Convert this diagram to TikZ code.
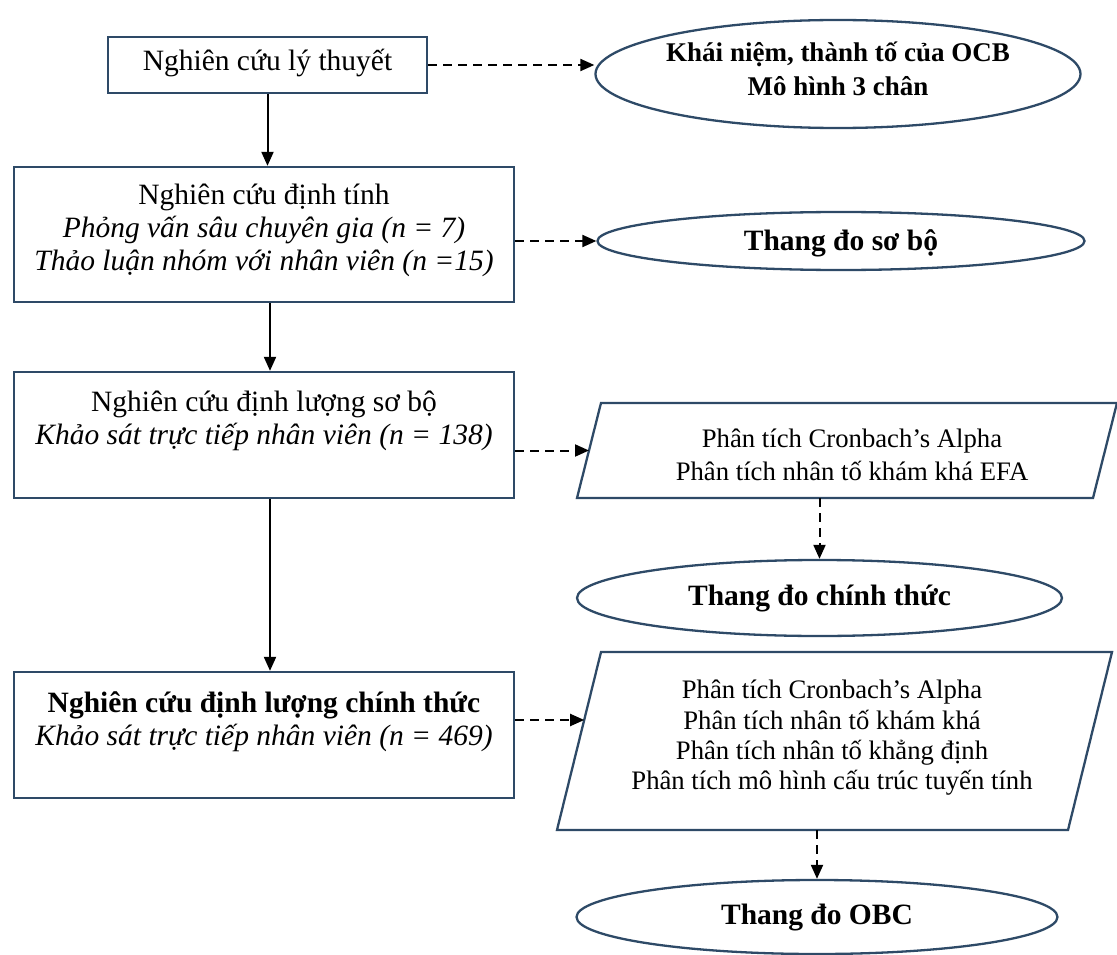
\documentclass[tikz,border=0pt]{standalone}
\usepackage{fontspec}
\setmainfont{Liberation Serif}
\usetikzlibrary{arrows.meta,shapes.geometric,calc}
\definecolor{navy}{RGB}{46,74,103}
\begin{document}
\begin{tikzpicture}[x=1pt,y=-1pt,
 box/.style={draw=navy,line width=2.3pt,rectangle,inner sep=0pt,fill=white},
 txt/.style={align=center,font=\fontsize{29.5}{33}\selectfont,inner sep=0pt},
 ptxt/.style={align=center,font=\fontsize{26.7}{33}\selectfont,inner sep=0pt},
 ell/.style={draw=navy,line width=2.3pt,ellipse,inner sep=0pt},
 paraline/.style={draw=navy,line width=2.3pt,line join=miter},
 solidarrow/.style={line width=2pt,-{Triangle[length=14pt,width=12pt]}},
 dasharrow/.style={line width=2pt,dash pattern=on 9pt off 6pt,-{Triangle[length=14pt,width=12pt]}}]
\useasboundingbox (0,0) rectangle (1117,955);

% left boxes
\node[box,minimum width=319pt,minimum height=56pt] (b1) at (267.5,65) {};
\node[txt] (t1) at (267.5,63) {Nghiên cứu lý thuyết};

\node[box,minimum width=500pt,minimum height=135pt] (b2) at (264,234.5) {};
\node[txt] (t2) at (264,230) {Nghiên cứu định tính\\\textit{Phỏng vấn sâu chuyên gia (n = 7)}\\\textit{Thảo luận nhóm với nhân viên (n =15)}};

\node[box,minimum width=500pt,minimum height=126pt] (b3) at (264,435) {};
\node[txt] (t3) at (264,421) {Nghiên cứu định lượng sơ bộ\\\textit{Khảo sát trực tiếp nhân viên (n = 138)}};

\node[box,minimum width=500pt,minimum height=126pt] (b4) at (264,735) {};
\node[txt] (t4) at (264,722) {\textbf{Nghiên cứu định lượng chính thức}\\\textit{Khảo sát trực tiếp nhân viên (n = 469)}};

% right side
\node[ell,minimum width=485pt,minimum height=108pt] (e1) at (838,74) {};
\node[txt,font=\bfseries\fontsize{27}{34}\selectfont] (te1) at (838,69) {Khái niệm, thành tố của OCB\\Mô hình 3 chân};

\node[ell,minimum width=487pt,minimum height=58pt] (e2) at (841,241) {};
\node[txt,font=\bfseries\fontsize{29.5}{34}\selectfont] (te2) at (841,243) {Thang đo sơ bộ};

\coordinate (p1bl) at (577,498);
\coordinate (p1tl) at (601,403);
\coordinate (p1tr) at (1117,403);
\coordinate (p1br) at (1093,498);
\draw[paraline] (p1bl) -- (p1tl) -- (p1tr) -- (p1br) -- cycle;
\node[ptxt] (p1) at (852,455) {Phân tích Cronbach’s Alpha\\Phân tích nhân tố khám khá EFA};

\node[ell,minimum width=485pt,minimum height=76pt] (e3) at (819.5,598) {};
\node[txt,font=\bfseries\fontsize{29.5}{34}\selectfont] (te3) at (819.5,599) {Thang đo chính thức};

\coordinate (p2bl) at (557,830);
\coordinate (p2tl) at (601,652);
\coordinate (p2tr) at (1112,652);
\coordinate (p2br) at (1068,830);
\draw[paraline] (p2bl) -- (p2tl) -- (p2tr) -- (p2br) -- cycle;
\node[ptxt,font=\fontsize{26.7}{30.3}\selectfont] (p2) at (832,738) {Phân tích Cronbach’s Alpha\\Phân tích nhân tố khám khá\\Phân tích nhân tố khẳng định\\Phân tích mô hình cấu trúc tuyến tính};

\node[ell,minimum width=481pt,minimum height=74pt] (e4) at (817,917) {};
\node[txt,font=\bfseries\fontsize{29.5}{34}\selectfont] (te4) at (817,918) {Thang đo OBC};

% solid arrows
\draw[solidarrow] (b1.south) -- (b2.north -| b1.south);
\draw[solidarrow] ([xshift=6pt]b2.south) -- ([xshift=6pt]b3.north);
\draw[solidarrow] ([xshift=6pt]b3.south) -- ([xshift=6pt]b4.north);

% dashed arrows
\coordinate (p1in) at ($(p1bl)!0.5!(p1tl)$);
\coordinate (p2in) at ($(p2bl)!0.618!(p2tl)$);
\coordinate (p1out) at (e3.north |- p1bl);
\coordinate (p2out) at (e4.north |- p2bl);
\draw[dasharrow] (b1.east) -- (b1.east -| e1.west);
\draw[dasharrow] (b2.east |- e2.west) -- (e2.west);
\draw[dasharrow] (b3.east |- p1in) -- (p1in);
\draw[dasharrow] (b4.east |- p2in) -- (p2in);
\draw[dasharrow] (p1out) -- (e3.north);
\draw[dasharrow] (p2out) -- (e4.north);
\end{tikzpicture}
\end{document}
